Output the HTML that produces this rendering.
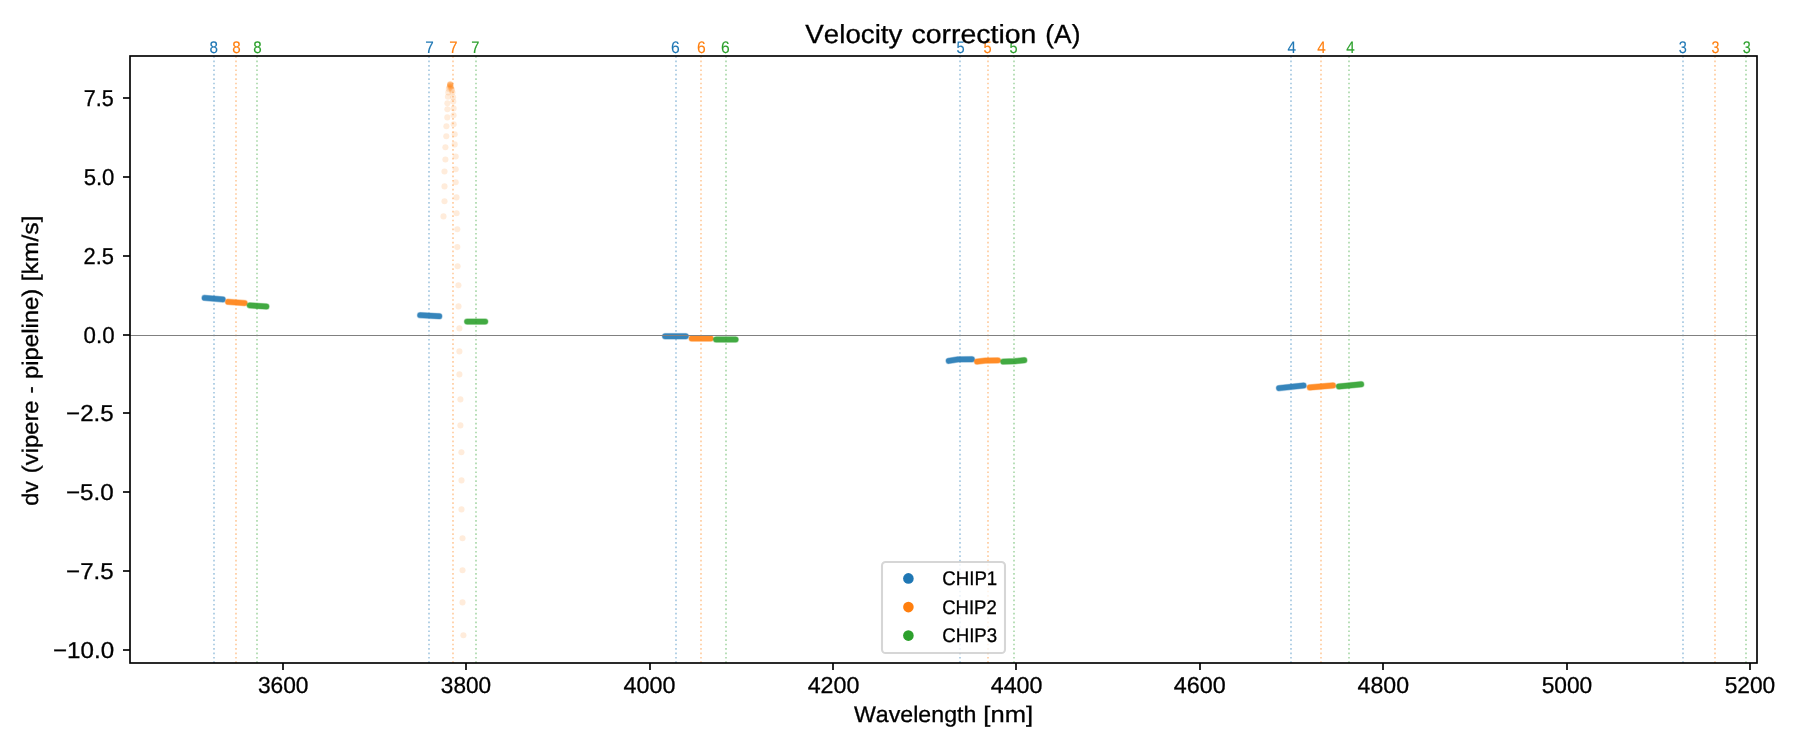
<!DOCTYPE html>
<html><head><meta charset="utf-8"><title>Velocity correction (A)</title>
<style>html,body{margin:0;padding:0;background:#fff;overflow:hidden;}svg{display:block;will-change:transform;}text{font-family:"Liberation Sans",sans-serif;font-kerning:none;text-rendering:geometricPrecision;}</style>
</head><body>
<svg width="1800" height="750" viewBox="0 0 1800 750">
<g stroke-width="1.667" stroke-dasharray="1.667 2.75" opacity="0.4" fill="none">
<line x1="214" y1="663.0" x2="214" y2="56.0" stroke="#1f77b4"/>
<line x1="236" y1="663.0" x2="236" y2="56.0" stroke="#ff7f0e"/>
<line x1="257" y1="663.0" x2="257" y2="56.0" stroke="#2ca02c"/>
<line x1="429" y1="663.0" x2="429" y2="56.0" stroke="#1f77b4"/>
<line x1="453" y1="663.0" x2="453" y2="56.0" stroke="#ff7f0e"/>
<line x1="476" y1="663.0" x2="476" y2="56.0" stroke="#2ca02c"/>
<line x1="676" y1="663.0" x2="676" y2="56.0" stroke="#1f77b4"/>
<line x1="701" y1="663.0" x2="701" y2="56.0" stroke="#ff7f0e"/>
<line x1="726" y1="663.0" x2="726" y2="56.0" stroke="#2ca02c"/>
<line x1="960" y1="663.0" x2="960" y2="56.0" stroke="#1f77b4"/>
<line x1="988" y1="663.0" x2="988" y2="56.0" stroke="#ff7f0e"/>
<line x1="1014" y1="663.0" x2="1014" y2="56.0" stroke="#2ca02c"/>
<line x1="1291" y1="663.0" x2="1291" y2="56.0" stroke="#1f77b4"/>
<line x1="1321" y1="663.0" x2="1321" y2="56.0" stroke="#ff7f0e"/>
<line x1="1349" y1="663.0" x2="1349" y2="56.0" stroke="#2ca02c"/>
<line x1="1683" y1="663.0" x2="1683" y2="56.0" stroke="#1f77b4"/>
<line x1="1715" y1="663.0" x2="1715" y2="56.0" stroke="#ff7f0e"/>
<line x1="1746" y1="663.0" x2="1746" y2="56.0" stroke="#2ca02c"/>
</g>
<g stroke-linecap="round" stroke-linejoin="round" fill="none">
<polyline points="204.60,297.87 222.70,299.43" stroke="#1f77b4" stroke-width="7.0" stroke-opacity="0.18"/>
<polyline points="204.60,297.87 222.70,299.43" stroke="#1f77b4" stroke-width="6.2" stroke-opacity="0.35"/>
<polyline points="204.60,297.87 222.70,299.43" stroke="#1f77b4" stroke-width="5.4" stroke-opacity="0.8"/>
<polyline points="228.10,301.83 244.60,303.07" stroke="#ff7f0e" stroke-width="7.0" stroke-opacity="0.18"/>
<polyline points="228.10,301.83 244.60,303.07" stroke="#ff7f0e" stroke-width="6.2" stroke-opacity="0.35"/>
<polyline points="228.10,301.83 244.60,303.07" stroke="#ff7f0e" stroke-width="5.4" stroke-opacity="0.8"/>
<polyline points="249.70,305.40 266.40,306.50" stroke="#2ca02c" stroke-width="7.0" stroke-opacity="0.18"/>
<polyline points="249.70,305.40 266.40,306.50" stroke="#2ca02c" stroke-width="6.2" stroke-opacity="0.35"/>
<polyline points="249.70,305.40 266.40,306.50" stroke="#2ca02c" stroke-width="5.4" stroke-opacity="0.8"/>
<polyline points="420.10,315.17 439.30,316.23" stroke="#1f77b4" stroke-width="7.0" stroke-opacity="0.18"/>
<polyline points="420.10,315.17 439.30,316.23" stroke="#1f77b4" stroke-width="6.2" stroke-opacity="0.35"/>
<polyline points="420.10,315.17 439.30,316.23" stroke="#1f77b4" stroke-width="5.4" stroke-opacity="0.8"/>
<polyline points="467.10,321.60 485.20,321.60" stroke="#2ca02c" stroke-width="7.0" stroke-opacity="0.18"/>
<polyline points="467.10,321.60 485.20,321.60" stroke="#2ca02c" stroke-width="6.2" stroke-opacity="0.35"/>
<polyline points="467.10,321.60 485.20,321.60" stroke="#2ca02c" stroke-width="5.4" stroke-opacity="0.8"/>
<polyline points="665.10,336.30 685.80,336.30" stroke="#1f77b4" stroke-width="7.0" stroke-opacity="0.18"/>
<polyline points="665.10,336.30 685.80,336.30" stroke="#1f77b4" stroke-width="6.2" stroke-opacity="0.35"/>
<polyline points="665.10,336.30 685.80,336.30" stroke="#1f77b4" stroke-width="5.4" stroke-opacity="0.8"/>
<polyline points="691.70,338.50 710.70,338.50" stroke="#ff7f0e" stroke-width="7.0" stroke-opacity="0.18"/>
<polyline points="691.70,338.50 710.70,338.50" stroke="#ff7f0e" stroke-width="6.2" stroke-opacity="0.35"/>
<polyline points="691.70,338.50 710.70,338.50" stroke="#ff7f0e" stroke-width="5.4" stroke-opacity="0.8"/>
<polyline points="716.10,339.50 735.60,339.50" stroke="#2ca02c" stroke-width="7.0" stroke-opacity="0.18"/>
<polyline points="716.10,339.50 735.60,339.50" stroke="#2ca02c" stroke-width="6.2" stroke-opacity="0.35"/>
<polyline points="716.10,339.50 735.60,339.50" stroke="#2ca02c" stroke-width="5.4" stroke-opacity="0.8"/>
<polyline points="948.7,360.9 958,359.4 971.9,359.3" stroke="#1f77b4" stroke-width="7.0" stroke-opacity="0.18"/>
<polyline points="948.7,360.9 958,359.4 971.9,359.3" stroke="#1f77b4" stroke-width="6.2" stroke-opacity="0.35"/>
<polyline points="948.7,360.9 958,359.4 971.9,359.3" stroke="#1f77b4" stroke-width="5.4" stroke-opacity="0.8"/>
<polyline points="977.0,361.6 985,360.6 997.9,360.4" stroke="#ff7f0e" stroke-width="7.0" stroke-opacity="0.18"/>
<polyline points="977.0,361.6 985,360.6 997.9,360.4" stroke="#ff7f0e" stroke-width="6.2" stroke-opacity="0.35"/>
<polyline points="977.0,361.6 985,360.6 997.9,360.4" stroke="#ff7f0e" stroke-width="5.4" stroke-opacity="0.8"/>
<polyline points="1003.3,361.6 1015,361.2 1024.3,360.2" stroke="#2ca02c" stroke-width="7.0" stroke-opacity="0.18"/>
<polyline points="1003.3,361.6 1015,361.2 1024.3,360.2" stroke="#2ca02c" stroke-width="6.2" stroke-opacity="0.35"/>
<polyline points="1003.3,361.6 1015,361.2 1024.3,360.2" stroke="#2ca02c" stroke-width="5.4" stroke-opacity="0.8"/>
<polyline points="1279.00,388.17 1303.60,385.53" stroke="#1f77b4" stroke-width="7.0" stroke-opacity="0.18"/>
<polyline points="1279.00,388.17 1303.60,385.53" stroke="#1f77b4" stroke-width="6.2" stroke-opacity="0.35"/>
<polyline points="1279.00,388.17 1303.60,385.53" stroke="#1f77b4" stroke-width="5.4" stroke-opacity="0.8"/>
<polyline points="1309.80,387.44 1333.00,385.46" stroke="#ff7f0e" stroke-width="7.0" stroke-opacity="0.18"/>
<polyline points="1309.80,387.44 1333.00,385.46" stroke="#ff7f0e" stroke-width="6.2" stroke-opacity="0.35"/>
<polyline points="1309.80,387.44 1333.00,385.46" stroke="#ff7f0e" stroke-width="5.4" stroke-opacity="0.8"/>
<polyline points="1338.90,386.50 1361.20,384.30" stroke="#2ca02c" stroke-width="7.0" stroke-opacity="0.18"/>
<polyline points="1338.90,386.50 1361.20,384.30" stroke="#2ca02c" stroke-width="6.2" stroke-opacity="0.35"/>
<polyline points="1338.90,386.50 1361.20,384.30" stroke="#2ca02c" stroke-width="5.4" stroke-opacity="0.8"/>
</g>
<g fill="#ff7f0e" fill-opacity="0.15">
<circle cx="450.2" cy="84.2" r="3.05"/>
<circle cx="450.2" cy="84.3" r="3.05"/>
<circle cx="450.25" cy="84.5" r="3.05"/>
<circle cx="450.1" cy="84.8" r="3.05"/>
<circle cx="450.4" cy="85.2" r="3.05"/>
<circle cx="450.0" cy="85.7" r="3.05"/>
<circle cx="450.65" cy="86.2" r="3.05"/>
<circle cx="449.75" cy="86.7" r="3.05"/>
<circle cx="451.0" cy="87.4" r="3.05"/>
<circle cx="449.4" cy="87.8" r="3.05"/>
<circle cx="451.5" cy="88.8" r="3.05"/>
<circle cx="448.8" cy="88.9" r="3.05"/>
<circle cx="452.0" cy="90.4" r="3.05"/>
<circle cx="448.3" cy="92.4" r="3.05"/>
<circle cx="452.5" cy="92.6" r="3.05"/>
<circle cx="447.9" cy="96.7" r="3.05"/>
<circle cx="453.1" cy="97.2" r="3.05"/>
<circle cx="453.3" cy="101.5" r="3.05"/>
<circle cx="447.4" cy="103.3" r="3.05"/>
<circle cx="453.6" cy="108.4" r="3.05"/>
<circle cx="447.4" cy="109.3" r="3.05"/>
<circle cx="447.3" cy="117.4" r="3.05"/>
<circle cx="453.6" cy="115.3" r="3.05"/>
<circle cx="446.4" cy="126.2" r="3.05"/>
<circle cx="453.7" cy="124.3" r="3.05"/>
<circle cx="446.3" cy="136.3" r="3.05"/>
<circle cx="454.7" cy="134.3" r="3.05"/>
<circle cx="445.4" cy="147.3" r="3.05"/>
<circle cx="454.7" cy="144.4" r="3.05"/>
<circle cx="445.4" cy="159.5" r="3.05"/>
<circle cx="455.7" cy="156.5" r="3.05"/>
<circle cx="444.5" cy="171.5" r="3.05"/>
<circle cx="455.7" cy="169.3" r="3.05"/>
<circle cx="444.5" cy="186.4" r="3.05"/>
<circle cx="455.7" cy="182.3" r="3.05"/>
<circle cx="444.5" cy="201.3" r="3.05"/>
<circle cx="456.5" cy="197.4" r="3.05"/>
<circle cx="443.5" cy="216.4" r="3.05"/>
<circle cx="456.6" cy="213.3" r="3.05"/>
<circle cx="457.3" cy="229.2" r="3.05"/>
<circle cx="457.3" cy="247.1" r="3.05"/>
<circle cx="457.6" cy="266.3" r="3.05"/>
<circle cx="458.4" cy="285.2" r="3.05"/>
<circle cx="458.5" cy="306.4" r="3.05"/>
<circle cx="459.4" cy="328.4" r="3.05"/>
<circle cx="459.4" cy="351.4" r="3.05"/>
<circle cx="459.4" cy="374.4" r="3.05"/>
<circle cx="460.4" cy="399.4" r="3.05"/>
<circle cx="460.4" cy="425.4" r="3.05"/>
<circle cx="461.4" cy="452.3" r="3.05"/>
<circle cx="461.5" cy="480.4" r="3.05"/>
<circle cx="461.5" cy="509.4" r="3.05"/>
<circle cx="462.5" cy="538.3" r="3.05"/>
<circle cx="462.5" cy="570.3" r="3.05"/>
<circle cx="462.5" cy="602.4" r="3.05"/>
<circle cx="463.4" cy="635.3" r="3.05"/>
</g>
<line x1="130.0" y1="335.5" x2="1757.0" y2="335.5" stroke="#808080" stroke-width="1.04"/>
<rect x="130.0" y="56.0" width="1627.00" height="607.00" fill="none" stroke="#000" stroke-width="1.667"/>
<g stroke="#000" stroke-width="1.667">
<line x1="283" y1="663.0" x2="283" y2="670.0"/>
<line x1="466" y1="663.0" x2="466" y2="670.0"/>
<line x1="650" y1="663.0" x2="650" y2="670.0"/>
<line x1="833" y1="663.0" x2="833" y2="670.0"/>
<line x1="1016" y1="663.0" x2="1016" y2="670.0"/>
<line x1="1200" y1="663.0" x2="1200" y2="670.0"/>
<line x1="1383" y1="663.0" x2="1383" y2="670.0"/>
<line x1="1567" y1="663.0" x2="1567" y2="670.0"/>
<line x1="1750" y1="663.0" x2="1750" y2="670.0"/>
<line x1="130.0" y1="98" x2="123.0" y2="98"/>
<line x1="130.0" y1="177" x2="123.0" y2="177"/>
<line x1="130.0" y1="256" x2="123.0" y2="256"/>
<line x1="130.0" y1="335" x2="123.0" y2="335"/>
<line x1="130.0" y1="413" x2="123.0" y2="413"/>
<line x1="130.0" y1="492" x2="123.0" y2="492"/>
<line x1="130.0" y1="571" x2="123.0" y2="571"/>
<line x1="130.0" y1="650" x2="123.0" y2="650"/>
</g>
<text transform="translate(257.88,693.00) scale(0.9901,1)" font-size="23.00" fill="#000" stroke="#000" stroke-width="0.3">3600</text>
<text transform="translate(440.84,693.00) scale(0.9825,1)" font-size="23.00" fill="#000" stroke="#000" stroke-width="0.3">3800</text>
<text transform="translate(623.55,693.00) scale(1.0131,1)" font-size="23.00" fill="#000" stroke="#000" stroke-width="0.3">4000</text>
<text transform="translate(807.63,693.00) scale(1.0112,1)" font-size="23.00" fill="#000" stroke="#000" stroke-width="0.3">4200</text>
<text transform="translate(990.74,693.00) scale(1.0105,1)" font-size="23.00" fill="#000" stroke="#000" stroke-width="0.3">4400</text>
<text transform="translate(1173.72,693.00) scale(1.0146,1)" font-size="23.00" fill="#000" stroke="#000" stroke-width="0.3">4600</text>
<text transform="translate(1357.60,693.00) scale(1.0048,1)" font-size="23.00" fill="#000" stroke="#000" stroke-width="0.3">4800</text>
<text transform="translate(1541.63,693.00) scale(0.9895,1)" font-size="23.00" fill="#000" stroke="#000" stroke-width="0.3">5000</text>
<text transform="translate(1724.63,693.00) scale(0.9897,1)" font-size="23.00" fill="#000" stroke="#000" stroke-width="0.3">5200</text>
<text transform="translate(83.66,106.00) scale(0.9396,1)" font-size="23.00" fill="#000" stroke="#000" stroke-width="0.3">7.5</text>
<text transform="translate(83.64,185.00) scale(0.9626,1)" font-size="23.00" fill="#000" stroke="#000" stroke-width="0.3">5.0</text>
<text transform="translate(83.51,264.00) scale(0.9517,1)" font-size="23.00" fill="#000" stroke="#000" stroke-width="0.3">2.5</text>
<text transform="translate(83.60,343.00) scale(0.9682,1)" font-size="23.00" fill="#000" stroke="#000" stroke-width="0.3">0.0</text>
<text transform="translate(66.06,421.00) scale(1.0474,1)" font-size="23.00" fill="#000" stroke="#000" stroke-width="0.3">−2.5</text>
<text transform="translate(65.94,500.00) scale(1.0529,1)" font-size="23.00" fill="#000" stroke="#000" stroke-width="0.3">−5.0</text>
<text transform="translate(66.06,579.00) scale(1.0474,1)" font-size="23.00" fill="#000" stroke="#000" stroke-width="0.3">−7.5</text>
<text transform="translate(53.00,658.00) scale(1.0499,1)" font-size="23.00" fill="#000" stroke="#000" stroke-width="0.3">−10.0</text>
<text transform="translate(853.92,722.00) scale(1.0266,1)" font-size="22.60" fill="#000" stroke="#000" stroke-width="0.3">Wavelength</text>
<text transform="translate(983.35,722.00) scale(1.1310,1)" font-size="22.60" fill="#000" stroke="#000" stroke-width="0.3">[nm]</text>
<text transform="translate(38.00,505.74) rotate(-90) scale(1.0364,1)" font-size="22.60" fill="#000" stroke="#000" stroke-width="0.3">dv</text>
<text transform="translate(38.00,473.17) rotate(-90) scale(1.0526,1)" font-size="22.60" fill="#000" stroke="#000" stroke-width="0.3">(vipere</text>
<text transform="translate(38.00,393.54) rotate(-90) scale(0.9702,1)" font-size="22.60" fill="#000" stroke="#000" stroke-width="0.3">-</text>
<text transform="translate(38.00,379.03) rotate(-90) scale(1.0578,1)" font-size="22.60" fill="#000" stroke="#000" stroke-width="0.3">pipeline)</text>
<text transform="translate(38.00,281.37) rotate(-90) scale(1.0939,1)" font-size="22.60" fill="#000" stroke="#000" stroke-width="0.3">[km/s]</text>
<text transform="translate(209.45,53.00) scale(0.9082,1)" font-size="16.80" fill="#1f77b4" stroke="#1f77b4" stroke-width="0.12">8</text>
<text transform="translate(232.33,53.00) scale(0.9047,1)" font-size="16.80" fill="#ff7f0e" stroke="#ff7f0e" stroke-width="0.12">8</text>
<text transform="translate(253.30,53.00) scale(0.9045,1)" font-size="16.80" fill="#2ca02c" stroke="#2ca02c" stroke-width="0.12">8</text>
<text transform="translate(425.31,53.00) scale(0.9145,1)" font-size="16.80" fill="#1f77b4" stroke="#1f77b4" stroke-width="0.12">7</text>
<text transform="translate(449.17,53.00) scale(0.8847,1)" font-size="16.80" fill="#ff7f0e" stroke="#ff7f0e" stroke-width="0.12">7</text>
<text transform="translate(471.13,53.00) scale(0.8741,1)" font-size="16.80" fill="#2ca02c" stroke="#2ca02c" stroke-width="0.12">7</text>
<text transform="translate(671.10,53.00) scale(0.9360,1)" font-size="16.80" fill="#1f77b4" stroke="#1f77b4" stroke-width="0.12">6</text>
<text transform="translate(697.10,53.00) scale(0.9342,1)" font-size="16.80" fill="#ff7f0e" stroke="#ff7f0e" stroke-width="0.12">6</text>
<text transform="translate(721.09,53.00) scale(0.9330,1)" font-size="16.80" fill="#2ca02c" stroke="#2ca02c" stroke-width="0.12">6</text>
<text transform="translate(956.58,53.00) scale(0.8732,1)" font-size="16.80" fill="#1f77b4" stroke="#1f77b4" stroke-width="0.12">5</text>
<text transform="translate(983.48,53.00) scale(0.8696,1)" font-size="16.80" fill="#ff7f0e" stroke="#ff7f0e" stroke-width="0.12">5</text>
<text transform="translate(1009.50,53.00) scale(0.8640,1)" font-size="16.80" fill="#2ca02c" stroke="#2ca02c" stroke-width="0.12">5</text>
<text transform="translate(1287.42,53.00) scale(0.9100,1)" font-size="16.80" fill="#1f77b4" stroke="#1f77b4" stroke-width="0.12">4</text>
<text transform="translate(1317.36,53.00) scale(0.9087,1)" font-size="16.80" fill="#ff7f0e" stroke="#ff7f0e" stroke-width="0.12">4</text>
<text transform="translate(1346.33,53.00) scale(0.9078,1)" font-size="16.80" fill="#2ca02c" stroke="#2ca02c" stroke-width="0.12">4</text>
<text transform="translate(1678.69,53.00) scale(0.8640,1)" font-size="16.80" fill="#1f77b4" stroke="#1f77b4" stroke-width="0.12">3</text>
<text transform="translate(1711.49,53.00) scale(0.8506,1)" font-size="16.80" fill="#ff7f0e" stroke="#ff7f0e" stroke-width="0.12">3</text>
<text transform="translate(1742.65,53.00) scale(0.8562,1)" font-size="16.80" fill="#2ca02c" stroke="#2ca02c" stroke-width="0.12">3</text>
<text transform="translate(805.34,43.00) scale(1.0580,1)" font-size="26.20" fill="#000" stroke="#000" stroke-width="0.3">Velocity</text>
<text transform="translate(911.47,43.00) scale(1.0865,1)" font-size="26.20" fill="#000" stroke="#000" stroke-width="0.3">correction</text>
<text transform="translate(1045.34,43.00) scale(1.0061,1)" font-size="26.20" fill="#000" stroke="#000" stroke-width="0.3">(A)</text>
<rect x="882" y="562" width="123" height="91" rx="3.6" ry="3.6" fill="#fff" fill-opacity="0.8" stroke="#cccccc" stroke-opacity="0.8" stroke-width="2.08"/>
<circle cx="908.4" cy="578.4" r="5.3" fill="#1f77b4"/>
<text transform="translate(942.27,585.00) scale(0.9432,1)" font-size="19.80" fill="#000" stroke="#000" stroke-width="0.3">CHIP1</text>
<circle cx="908.4" cy="607.1" r="5.3" fill="#ff7f0e"/>
<text transform="translate(942.21,614.00) scale(0.9367,1)" font-size="19.80" fill="#000" stroke="#000" stroke-width="0.3">CHIP2</text>
<circle cx="908.4" cy="635.6" r="5.3" fill="#2ca02c"/>
<text transform="translate(942.23,642.00) scale(0.9430,1)" font-size="19.80" fill="#000" stroke="#000" stroke-width="0.3">CHIP3</text>
</svg></body></html>
